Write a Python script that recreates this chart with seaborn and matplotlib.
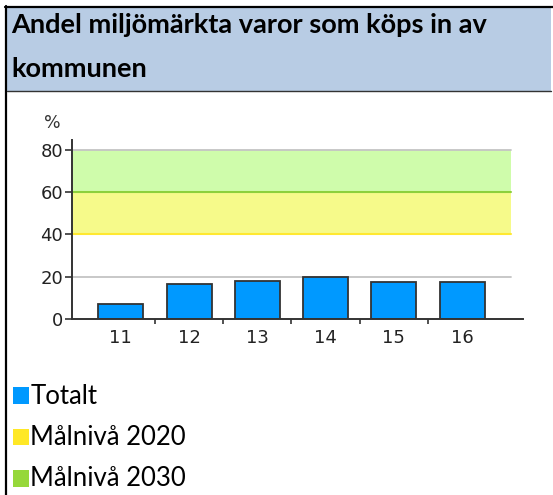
import matplotlib
matplotlib.use("Agg")
import matplotlib.pyplot as plt
import seaborn as sns
import pandas as pd
from matplotlib.patches import Rectangle
from matplotlib.lines import Line2D

# ---- data ----
years = ["11", "12", "13", "14", "15", "16"]
totalt = [7.0, 16.5, 18.2, 20.1, 17.3, 17.3]
mal_2020 = (40, 60)
mal_2030 = (60, 80)
y_ticks = [0, 20, 40, 60, 80]
gray_lines = [20, 80]
title_lines = ["Andel miljömärkta varor som köps in av", "kommunen"]
legend_labels = ["Totalt", "Målnivå 2020", "Målnivå 2030"]
legend_colors = ["#0099ff", "#ffe826", "#96d83a"]

sns.set_theme(style="white")
plt.rcParams["font.family"] = ["DejaVu Sans"]

W, H = 553, 495
DPI = 100
fig = plt.figure(figsize=(W / DPI, H / DPI), dpi=DPI)

def fx(px):
    return px / W

def fy(py):
    return 1 - py / H

# header band and frame
fig.patches.append(Rectangle((fx(7), fy(91)), fx(551) - fx(7), fy(7) - fy(91),
                             transform=fig.transFigure, facecolor="#b8cce4",
                             edgecolor="none", zorder=0))
fig.add_artist(Line2D([fx(5), 1], [fy(7), fy(7)], color="black", lw=1.6,
                      transform=fig.transFigure))
fig.add_artist(Line2D([fx(6), fx(6)], [fy(6), 0], color="black", lw=1.6,
                      transform=fig.transFigure))
fig.add_artist(Line2D([fx(7), fx(551)], [fy(91), fy(91)], color="#333333", lw=1.0,
                      transform=fig.transFigure))

for line, base in zip(title_lines, [33, 77]):
    fig.text(fx(11.5), fy(base), line, family="Lato", weight="bold", fontsize=19.5,
             color="black", ha="left", va="baseline")

# chart axes
ax_left, ax_right, ax_top, ax_bottom = 72.3, 522.7, 140, 319
ax = fig.add_axes([fx(ax_left), fy(ax_bottom), fx(ax_right) - fx(ax_left),
                   fy(ax_top) - fy(ax_bottom)])

df = pd.DataFrame({"year": years, "value": totalt})
sns.barplot(data=df, x="year", y="value", color="#0099ff", saturation=1,
            edgecolor="#333333", linewidth=1.3, width=0.66, ax=ax, zorder=3)

band_xmax = (511 - ax_left) / (ax_right - ax_left)
ax.axhspan(*mal_2030, xmax=band_xmax, facecolor="#cffcab", edgecolor="none", zorder=0)
ax.axhspan(*mal_2020, xmax=band_xmax, facecolor="#f6fa8a", edgecolor="none", zorder=0)
for g in gray_lines:
    ax.axhline(g, xmax=band_xmax, color="#c4c4c4", lw=1.3, zorder=1)
ax.axhline(mal_2020[0], xmax=band_xmax, color="#ffe830", lw=1.5, zorder=1)
ax.axhline(mal_2030[0], xmax=band_xmax, color="#8cd03c", lw=1.5, zorder=1)

ax.set_xlim(-0.711, 5.889)
ax.set_ylim(0, 84.7)
ax.set_yticks(y_ticks)
ax.set_xticks(range(len(years)))
ax.set_xticklabels(years)
ax.set_xticks([i + 0.5 for i in range(len(years) - 1)], minor=True)
ax.set_xlabel("")
ax.set_ylabel("")
ax.patch.set_alpha(0)

for s in ["top", "right"]:
    ax.spines[s].set_visible(False)
for s in ["left", "bottom"]:
    ax.spines[s].set_color("#333333")
    ax.spines[s].set_linewidth(1.4)
    ax.spines[s].set_zorder(4)

ax.tick_params(axis="y", which="major", length=5, width=1.2, color="#333333",
               labelsize=13, labelcolor="#222222", pad=1.5, left=True)
ax.tick_params(axis="x", which="major", length=0, labelsize=13,
               labelcolor="#222222", pad=7, bottom=True)
ax.tick_params(axis="x", which="minor", length=3.5, width=1.2, color="#333333",
               bottom=True, direction="out")

fig.text(fx(52), fy(123), "%", fontsize=12.5, color="#333333", ha="center", va="center")

# legend
for i, (lab, col) in enumerate(zip(legend_labels, legend_colors)):
    base = 403.5 + 41.5 * i
    fig.patches.append(Rectangle((fx(12.7), fy(base)), fx(16.5), 16.5 / H,
                                 transform=fig.transFigure, facecolor=col,
                                 edgecolor="none"))
    fig.text(fx(30.5), fy(base), lab, family="Lato", fontsize=18.5, color="black",
             ha="left", va="baseline")

fig.savefig("out.png", dpi=DPI)
